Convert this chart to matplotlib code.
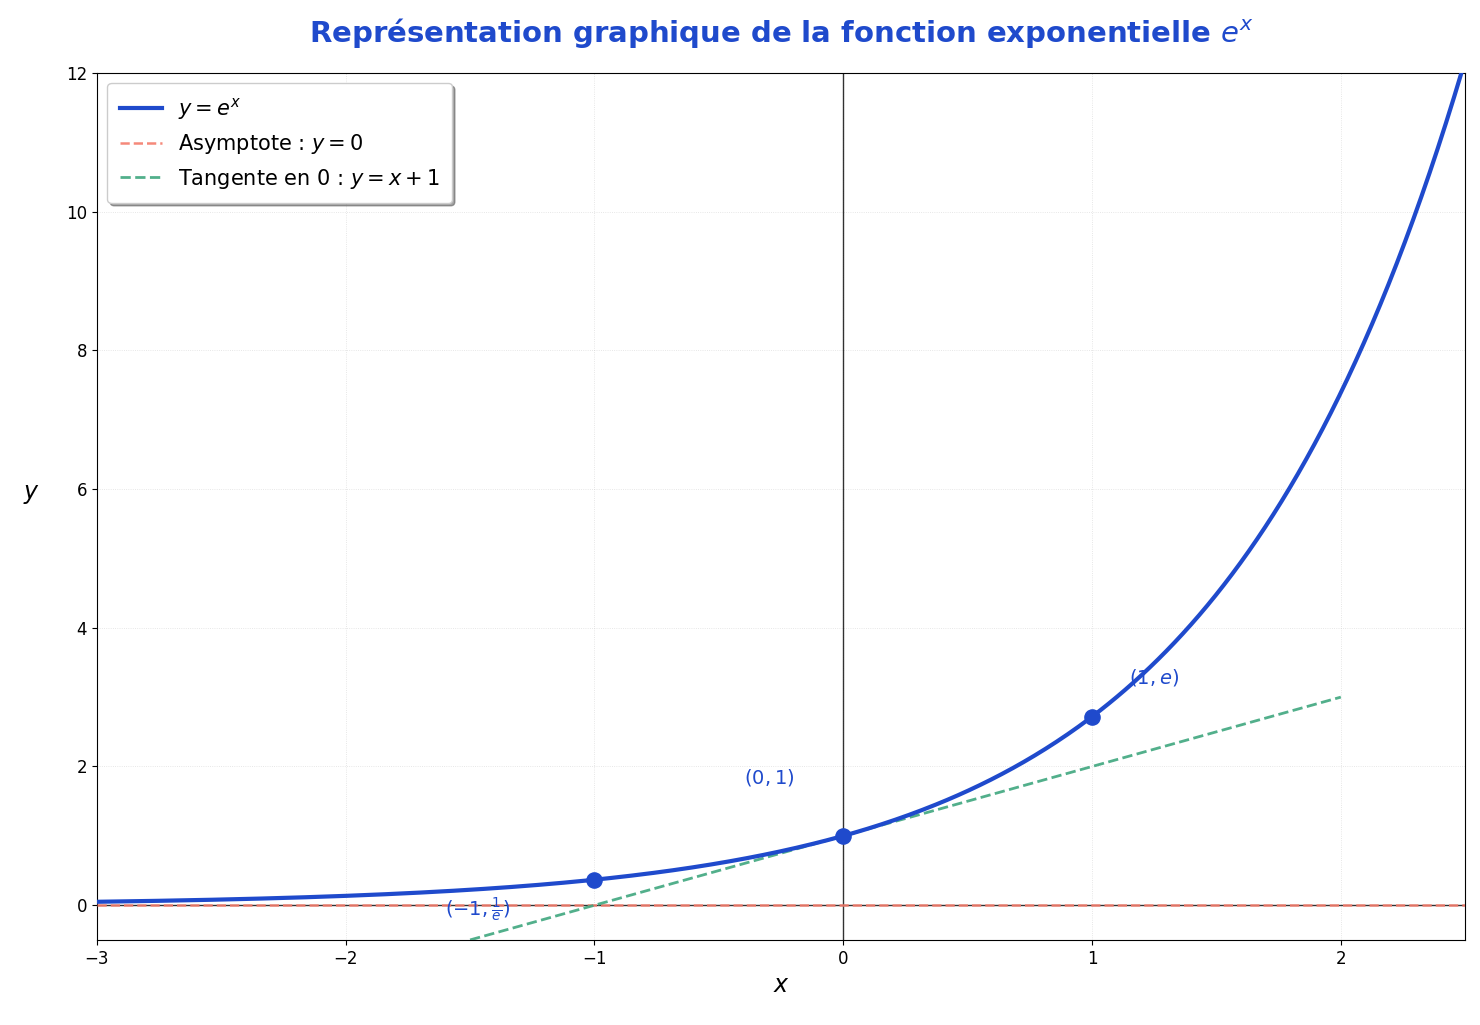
import numpy as np
import matplotlib
matplotlib.use("Agg")
import matplotlib.pyplot as plt

x_range = [-3, 2.5]
tangent_range = [-1.5, 2]
points_x = [-1, 0, 1]
labels = [r'$(-1, \frac{1}{e})$', r'$(0, 1)$', r'$(1, e)$']
label_pos = [(-1.6, -0.15), (-0.4, 1.75), (1.15, 3.2)]

blue = '#1f4acc'
green = '#3fa77f'
salmon = '#f47c6c'

fig, ax = plt.subplots(figsize=(14.8, 10.25), dpi=100)
fig.subplots_adjust(left=0.0655, right=0.99, top=0.929, bottom=0.083)

x = np.linspace(x_range[0], x_range[1], 500)
ax.plot(x, np.exp(x), color=blue, lw=3, label=r'$y = e^x$', zorder=4)
ax.axhline(0, color=salmon, ls='--', lw=1.8, alpha=0.9, label=r'Asymptote : $y = 0$', zorder=3)
xt = np.array(tangent_range)
ax.plot(xt, xt + 1, color=green, ls='--', lw=2, alpha=0.9, label=r'Tangente en 0 : $y = x + 1$', zorder=3)
ax.axhline(0, color='black', lw=1, alpha=0.8, zorder=2)
ax.axvline(0, color='black', lw=1, alpha=0.8, zorder=2)
px = np.array(points_x)
ax.scatter(px, np.exp(px), s=120, color=blue, zorder=5)
for lab, (lx, ly) in zip(labels, label_pos):
    ax.text(lx, ly, lab, color=blue, fontsize=14)

ax.set_xlim(-3, 2.5)
ax.set_ylim(-0.5, 12)
ax.set_yticks([0, 2, 4, 6, 8, 10, 12])
ax.grid(True, ls=':', lw=0.6, alpha=0.4)
ax.tick_params(labelsize=12)
ax.set_xlabel(r'$x$', fontsize=17)
ax.set_ylabel(r'$y$', fontsize=17, rotation=0, labelpad=25)
ax.set_title(r'Représentation graphique de la fonction exponentielle $e^x$',
             color=blue, fontsize=21, fontweight='bold', pad=22)
ax.legend(loc='upper left', fontsize=15, shadow=True, frameon=True, fancybox=True,
          borderpad=0.6)
fig.savefig('out.png', dpi=100)
